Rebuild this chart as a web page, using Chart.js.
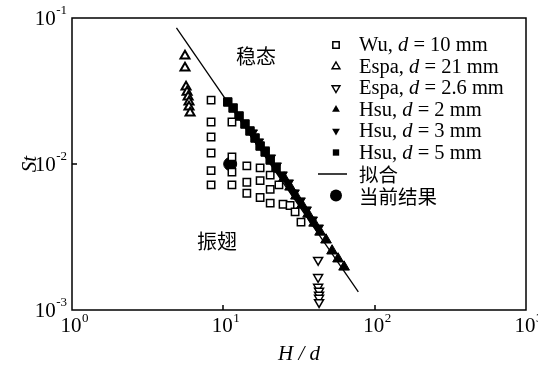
<!DOCTYPE html>
<html>
<head>
<meta charset="UTF-8">
<title>St - H/d</title>
<style>body{margin:0;background:#fff}</style>
</head>
<body>
<script src="https://cdn.jsdelivr.net/npm/chart.js@4.4.1/dist/chart.umd.min.js"></script>
<canvas id="stChart" width="538" height="366"></canvas>
<script>
// values (H/d, St)
var wuX = [8.3, 8.3, 8.3, 8.3, 8.3, 8.3, 11.4, 11.4, 11.4, 11.4, 14.3, 14.3, 14.3, 17.5, 17.5, 17.5, 20.4, 20.4, 20.4, 23.3, 24.8, 27.6, 29.8, 32.6];
var wuY = [0.0274, 0.0194, 0.0153, 0.0119, 0.0090, 0.0072, 0.0194, 0.0112, 0.0088, 0.0072, 0.0097, 0.0075, 0.0063, 0.0094, 0.0077, 0.0059, 0.0084, 0.0067, 0.0054, 0.0072, 0.0053, 0.0052, 0.0047, 0.0040];

var espa21X = [5.58, 5.58, 5.67, 5.76, 5.85, 5.93, 5.93, 6.03];
var espa21Y = [0.0549, 0.0455, 0.0337, 0.0311, 0.0288, 0.0266, 0.0246, 0.0224];

var espa26X = [42.3, 42.3, 42.3, 42.9, 42.9, 42.9, 42.9];
var espa26Y = [0.0022, 0.00168, 0.00144, 0.00135, 0.00127, 0.00121, 0.00113];

var hsu2X = [25.2, 27.6, 30.2, 33.1, 36.3, 39.8, 43.6, 47.7, 52.3, 57.3, 62.8];
var hsu2Y = [0.00802, 0.00696, 0.00604, 0.00524, 0.00454, 0.00394, 0.00342, 0.00302, 0.00254, 0.00224, 0.00197];

var hsu3X = [15.5, 17.0, 18.6, 20.4, 22.3, 24.4, 26.8, 29.3, 32.1, 35.2, 38.6, 42.3];
var hsu3Y = [0.01631, 0.01415, 0.01247, 0.01099, 0.00969, 0.00841, 0.00741, 0.00633, 0.00558, 0.00484, 0.00413, 0.00364];

var hsu5X = [10.7, 11.6, 12.7, 13.9, 15.0, 16.2, 17.5, 18.9, 20.4, 22.3];
var hsu5Y = [0.02659, 0.02418, 0.02132, 0.01879, 0.01683, 0.01507, 0.01328, 0.01208, 0.01065, 0.00939];

var fitX = [4.9, 78];
var fitY = [0.0855, 0.00133];

var curX = [11.1];
var curY = [0.0100];

var seriesNames = ['Wu, d = 10 mm', 'Espa, d = 21 mm', 'Espa, d = 2.6 mm', 'Hsu, d = 2 mm', 'Hsu, d = 3 mm', 'Hsu, d = 5 mm', '拟合', '当前结果'];
var xTicks = [1, 10, 100, 1000];
var yTicks = [0.001, 0.01, 0.1];

function pts(xs, ys) {
  return xs.map(function (x, i) { return { x: x, y: ys[i] }; });
}

var SERIF = '"Liberation Serif", "Times New Roman", serif';
var CJK = '"Noto Sans CJK SC", sans-serif';

function marker(ctx, shape, x, y, r, filled) {
  ctx.beginPath();
  if (shape == 'rect') {
    var s = r * Math.SQRT1_2;
    ctx.rect(x - s, y - s, 2 * s, 2 * s);
  } else if (shape == 'up' || shape == 'down') {
    var k = shape == 'up' ? 1 : -1;
    ctx.moveTo(x, y - k * r);
    ctx.lineTo(x + r * 0.866, y + k * r * 0.5);
    ctx.lineTo(x - r * 0.866, y + k * r * 0.5);
    ctx.closePath();
  } else {
    ctx.arc(x, y, r, 0, Math.PI * 2);
  }
  if (filled) ctx.fill(); else ctx.stroke();
}

function rich(ctx, label, x, y, size) {
  var m = label.match(/^(.*?)d( = .*)$/);
  var parts = m ? [[m[1], false], ['d', true], [m[2], false]] : [[label, false]];
  parts.forEach(function (p) {
    var isCjk = /[\u4e00-\u9fff]/.test(p[0]);
    ctx.font = (p[1] ? 'italic ' : '') + (isCjk ? size - 1 : size) + 'px ' + (isCjk ? CJK : SERIF);
    ctx.fillText(p[0], x, y);
    x += ctx.measureText(p[0]).width;
  });
}

var decorPlugin = {
  id: 'decor',
  afterDraw: function (chart) {
    var ctx = chart.ctx, a = chart.chartArea;
    var xs = chart.scales.x, ys = chart.scales.y;
    ctx.save();
    ctx.strokeStyle = '#000';
    ctx.fillStyle = '#000';
    ctx.lineWidth = 1.5;
    ctx.strokeRect(a.left, a.top, a.right - a.left, a.bottom - a.top);

    // inward ticks
    ctx.beginPath();
    [10, 100].forEach(function (v) {
      var px = Math.round(xs.getPixelForValue(v));
      ctx.moveTo(px, a.bottom);
      ctx.lineTo(px, a.bottom - 5);
    });
    var py2 = Math.round(ys.getPixelForValue(0.01));
    ctx.moveTo(a.left, py2);
    ctx.lineTo(a.left + 5, py2);
    ctx.stroke();

    // tick labels 10^n
    ctx.textBaseline = 'middle';
    xTicks.forEach(function (v) {
      var px = xs.getPixelForValue(v);
      var e = String(Math.round(Math.log10(v)));
      ctx.font = '21px ' + SERIF;
      ctx.textAlign = 'center';
      ctx.fillText('10', px - 1, a.bottom + 16);
      var w = ctx.measureText('10').width;
      ctx.font = '13px ' + SERIF;
      ctx.textAlign = 'left';
      ctx.fillText(e, px - 1 + w / 2 + 0.5, a.bottom + 9);
    });
    yTicks.forEach(function (v) {
      var py = ys.getPixelForValue(v);
      var e = '-' + String(Math.round(-Math.log10(v)));
      ctx.font = '13px ' + SERIF;
      ctx.textAlign = 'right';
      ctx.fillText(e, a.left - 5, py - 7);
      var we = ctx.measureText(e).width;
      ctx.font = '21px ' + SERIF;
      ctx.fillText('10', a.left - 5 - we - 0.5, py + 1);
    });

    // axis titles
    ctx.textAlign = 'center';
    ctx.font = 'italic 21px ' + SERIF;
    ctx.fillText('H / d', (a.left + a.right) / 2, 354);
    ctx.save();
    ctx.translate(30, (a.top + a.bottom) / 2);
    ctx.rotate(-Math.PI / 2);
    ctx.fillText('St', 0, 0);
    ctx.restore();

    // region labels
    ctx.font = '20px ' + CJK;
    ctx.fillText('稳态', 256, 56);
    ctx.fillText('振翅', 217, 241);

    // legend
    ctx.textAlign = 'left';
    chart.data.datasets.forEach(function (ds, i) {
      var ly = 45 + i * 21.5, lx = 336;
      ctx.lineWidth = 1.5;
      if (ds.showLine) {
        ctx.beginPath();
        ctx.moveTo(318, ly);
        ctx.lineTo(347, ly);
        ctx.stroke();
      } else {
        var r = ds.pointStyle == 'circle' ? 6 : 4.5;
        var shape = ds.pointStyle == 'rect' ? 'rect' : ds.pointStyle == 'circle' ? 'circle' : (ds.rotation ? 'down' : 'up');
        marker(ctx, shape, lx, ly, r, ds.backgroundColor == '#000');
      }
      rich(ctx, ds.label, 359, ly + 1, 20.5);
    });
    ctx.restore();
  }
};

function scatterSet(label, data, style, filled, r, rot, bw) {
  return {
    label: label,
    data: data,
    pointStyle: style,
    rotation: rot || 0,
    pointRotation: rot || 0,
    backgroundColor: filled ? '#000' : '#fff',
    borderColor: '#000',
    pointBorderWidth: bw || 1.5,
    pointRadius: r,
    pointHoverRadius: r,
    showLine: false
  };
}

var datasets = [
  scatterSet(seriesNames[0], pts(wuX, wuY), 'rect', false, 5.2, 0, 1.5),
  scatterSet(seriesNames[1], pts(espa21X, espa21Y), 'triangle', false, 5.2, 0, 2),
  scatterSet(seriesNames[2], pts(espa26X, espa26Y), 'triangle', false, 5.2, 180, 1.5),
  scatterSet(seriesNames[3], pts(hsu2X, hsu2Y), 'triangle', true, 6.2, 0, 1),
  scatterSet(seriesNames[4], pts(hsu3X, hsu3Y), 'triangle', true, 6.2, 180, 1),
  scatterSet(seriesNames[5], pts(hsu5X, hsu5Y), 'rect', true, 6, 0, 1),
  {
    label: seriesNames[6],
    data: pts(fitX, fitY),
    showLine: true,
    borderColor: '#000',
    borderWidth: 1.3,
    pointRadius: 0,
    fill: false
  },
  scatterSet(seriesNames[7], pts(curX, curY), 'circle', true, 6.5, 0, 1)
];

var ctx = document.getElementById('stChart').getContext('2d');
var stChart = new Chart(ctx, {
  type: 'scatter',
  data: { datasets: datasets },
  options: {
    responsive: false,
    animation: false,
    layout: { padding: { left: 72, right: 12, top: 18, bottom: 56 } },
    plugins: { legend: { display: false }, tooltip: { enabled: false } },
    scales: {
      x: { type: 'logarithmic', min: 1, max: 1000, display: false },
      y: { type: 'logarithmic', min: 0.001, max: 0.1, display: false }
    }
  },
  plugins: [decorPlugin]
});
</script>
</body>
</html>
